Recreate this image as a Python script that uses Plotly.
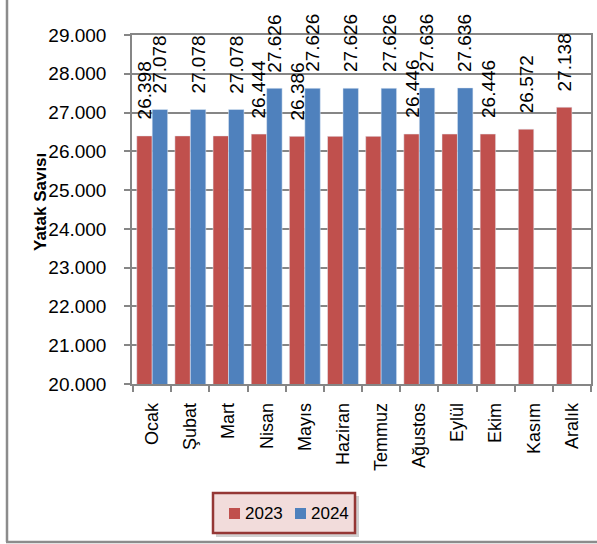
import plotly.graph_objects as go

months = ["Ocak", "Şubat", "Mart", "Nisan", "Mayıs", "Haziran", "Temmuz",
          "Ağustos", "Eylül", "Ekim", "Kasım", "Aralık"]
beds_2023 = [26398, 26398, 26398, 26444, 26386, 26386, 26386, 26446, 26446, 26446, 26572, 27138]
beds_2024 = [27078, 27078, 27078, 27626, 27626, 27626, 27626, 27636, 27636, None, None, None]
# which data labels are visible in the original chart
show_2023 = [True, False, False, True, True, False, False, True, False, True, True, True]
show_2024 = [True, True, True, True, True, True, True, True, True, False, False, False]
series_names = ["2023", "2024"]

RED = "#C0504D"
BLUE = "#4F81BD"
GRID = "#868686"
FONT = "Liberation Sans"

W, H = 597, 544
L, R, T, B = 132, 6, 35, 160
PW, PH = W - L - R, H - T - B


def px_x(p):
    return (p - L) / PW


def px_y(p):
    return (H - B - p) / PH


def fmt(v):
    return f"{v:,}".replace(",", ".")


fig = go.Figure()
fig.add_trace(go.Bar(name=series_names[0], x=months, y=beds_2023, marker_color=RED))
fig.add_trace(go.Bar(name=series_names[1], x=months, y=beds_2024, marker_color=BLUE))

LBL = 19
annotations = []
off = 7.7
for vals, shows, sh in ((beds_2023, show_2023, -off), (beds_2024, show_2024, off)):
    for m, v, s in zip(months, vals, shows):
        if v is not None and s:
            annotations.append(dict(x=m, y=v, xref="x", yref="y", text=fmt(v), textangle=-90,
                                    showarrow=False, xanchor="center", yanchor="bottom",
                                    xshift=sh, yshift=14,
                                    font=dict(family=FONT, size=LBL, color="black")))

annotations.append(dict(x=px_x(40), y=px_y(202), xref="paper", yref="paper",
                        text="<b>Yatak Savısı</b>", textangle=-90, showarrow=False,
                        xanchor="center", yanchor="middle",
                        font=dict(family=FONT, size=17, color="black")))

# manual legend text
annotations.append(dict(x=px_x(243), y=px_y(513), xref="paper", yref="paper", text=series_names[0],
                        showarrow=False, xanchor="left", yanchor="middle",
                        font=dict(family=FONT, size=17, color="black")))
annotations.append(dict(x=px_x(309), y=px_y(513), xref="paper", yref="paper", text=series_names[1],
                        showarrow=False, xanchor="left", yanchor="middle",
                        font=dict(family=FONT, size=17, color="black")))

shapes = [
    # outer chart border (left and bottom visible)
    dict(type="line", xref="paper", yref="paper", x0=px_x(7), x1=px_x(7), y0=px_y(542), y1=px_y(-5),
         line=dict(color="#8C8C8C", width=2.5)),
    dict(type="line", xref="paper", yref="paper", x0=px_x(6), x1=px_x(605), y0=px_y(542), y1=px_y(542),
         line=dict(color="#8C8C8C", width=2.5)),
    # legend shadow and box
    dict(type="rect", xref="paper", yref="paper", x0=px_x(216), x1=px_x(359), y0=px_y(537), y1=px_y(496),
         line=dict(width=0), fillcolor="rgba(0,0,0,0.18)"),
    dict(type="rect", xref="paper", yref="paper", x0=px_x(213), x1=px_x(355), y0=px_y(533), y1=px_y(493),
         line=dict(color="#953735", width=2.5), fillcolor="#F2DCDB"),
    # legend swatches
    dict(type="rect", xref="paper", yref="paper", x0=px_x(229), x1=px_x(240), y0=px_y(519), y1=px_y(508),
         line=dict(width=0), fillcolor=RED),
    dict(type="rect", xref="paper", yref="paper", x0=px_x(295), x1=px_x(306), y0=px_y(519), y1=px_y(508),
         line=dict(width=0), fillcolor=BLUE),
]

fig.update_layout(
    width=W, height=H,
    margin=dict(l=L, r=R, t=T, b=B, autoexpand=False),
    paper_bgcolor="white", plot_bgcolor="white",
    barmode="group", bargap=0.19, bargroupgap=0,
    separators=",.",
    font=dict(family=FONT, size=18, color="black"),
    showlegend=False,
    annotations=annotations,
    shapes=shapes,
)
fig.update_yaxes(range=[20000, 29000], dtick=1000, tickformat=",.0f", automargin=False,
                 showgrid=True, gridcolor=GRID, gridwidth=1.5,
                 showline=True, linecolor=GRID, linewidth=1.5, mirror=True,
                 ticks="outside", ticklen=6, tickcolor=GRID, tickwidth=1.5,
                 ticklabelstandoff=14, zeroline=False,
                 tickfont=dict(family=FONT, size=19, color="black"))
fig.update_xaxes(type="category", tickangle=-90, automargin=False,
                 showline=True, linecolor=GRID, linewidth=1.5,
                 mirror=True, ticks="outside", tickson="boundaries", ticklen=6, tickcolor=GRID,
                 tickwidth=1.5, ticklabelstandoff=10, showgrid=False,
                 tickfont=dict(family=FONT, size=18, color="black"))

fig.write_html("out.html", config={"displayModeBar": False},
               post_script="document.body.style.margin='0px';")
